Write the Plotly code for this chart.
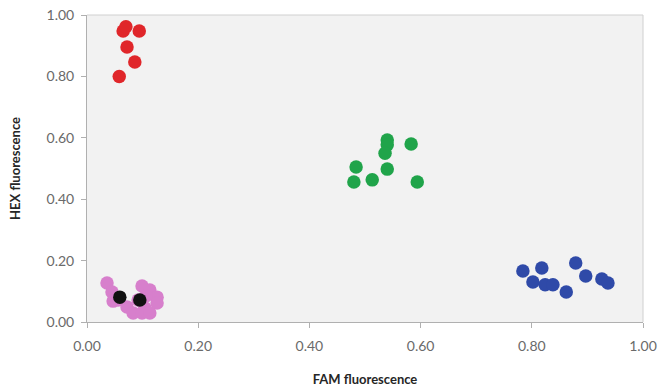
import plotly.graph_objects as go

# Red cluster (HEX only)
red_x = [0.058, 0.086, 0.072, 0.065, 0.070, 0.094]
red_y = [0.800, 0.847, 0.896, 0.948, 0.962, 0.948]

# Green cluster (heterozygous)
green_x = [0.540, 0.540, 0.536, 0.583, 0.484, 0.540, 0.480, 0.513, 0.594]
green_y = [0.593, 0.577, 0.550, 0.580, 0.505, 0.498, 0.456, 0.463, 0.456]

# Blue cluster (FAM only)
blue_x = [0.784, 0.818, 0.802, 0.824, 0.838, 0.862, 0.879, 0.897, 0.926, 0.937]
blue_y = [0.166, 0.176, 0.130, 0.121, 0.121, 0.098, 0.192, 0.150, 0.140, 0.127]

# Pink cluster (no template)
pink_x = [0.036, 0.045, 0.056, 0.072, 0.083, 0.099, 0.113, 0.126, 0.126, 0.104,
          0.099, 0.113, 0.092, 0.106, 0.047]
pink_y = [0.127, 0.098, 0.072, 0.049, 0.029, 0.117, 0.104, 0.081, 0.062, 0.046,
          0.029, 0.029, 0.072, 0.085, 0.068]

# Black points (controls)
black_x = [0.059, 0.095]
black_y = [0.081, 0.072]

tick_vals = [0.0, 0.2, 0.4, 0.6, 0.8, 1.0]
tick_text = ["0.00", "0.20", "0.40", "0.60", "0.80", "1.00"]

fig = go.Figure()
for xs, ys, col in [(pink_x, pink_y, "#d77fcc"), (black_x, black_y, "#111111"),
                    (red_x, red_y, "#e0262a"), (green_x, green_y, "#20a44a"),
                    (blue_x, blue_y, "#2f4aa8")]:
    fig.add_trace(go.Scatter(x=xs, y=ys, mode="markers",
                             marker=dict(color=col, size=13.5, line=dict(width=0)),
                             showlegend=False))

font_fam = "Lato, Open Sans, sans-serif"
axis_common = dict(range=[0, 1], tickvals=tick_vals, ticktext=tick_text,
                   showgrid=False, zeroline=False, showline=True, automargin=False,
                   linecolor="#b0b0b0", linewidth=1, ticks="outside",
                   ticklen=5, tickcolor="#b0b0b0",
                   tickfont=dict(family=font_fam, size=14, color="#6a6a6a"))

fig.update_layout(
    width=663, height=390,
    margin=dict(l=87, r=20, t=15, b=68),
    paper_bgcolor="white",
    plot_bgcolor="#f2f2f2",
    xaxis=dict(**axis_common, ticklabelstandoff=6,
               title=dict(text="<b>FAM fluorescence</b>", standoff=22,
                          font=dict(family=font_fam, size=13, color="#262626"))),
    yaxis=dict(**axis_common, ticklabelstandoff=4,
               title=dict(text="<b>HEX fluorescence</b>", standoff=22,
                          font=dict(family=font_fam, size=13, color="#262626"))),
    shapes=[dict(type="line", xref="paper", yref="paper", x0=0, x1=1, y0=1, y1=1,
                 line=dict(color="#d0d0d0", width=1)),
            dict(type="line", xref="paper", yref="paper", x0=1, x1=1, y0=0, y1=1,
                 line=dict(color="#d0d0d0", width=1))],
)

fig.write_html("out.html")
